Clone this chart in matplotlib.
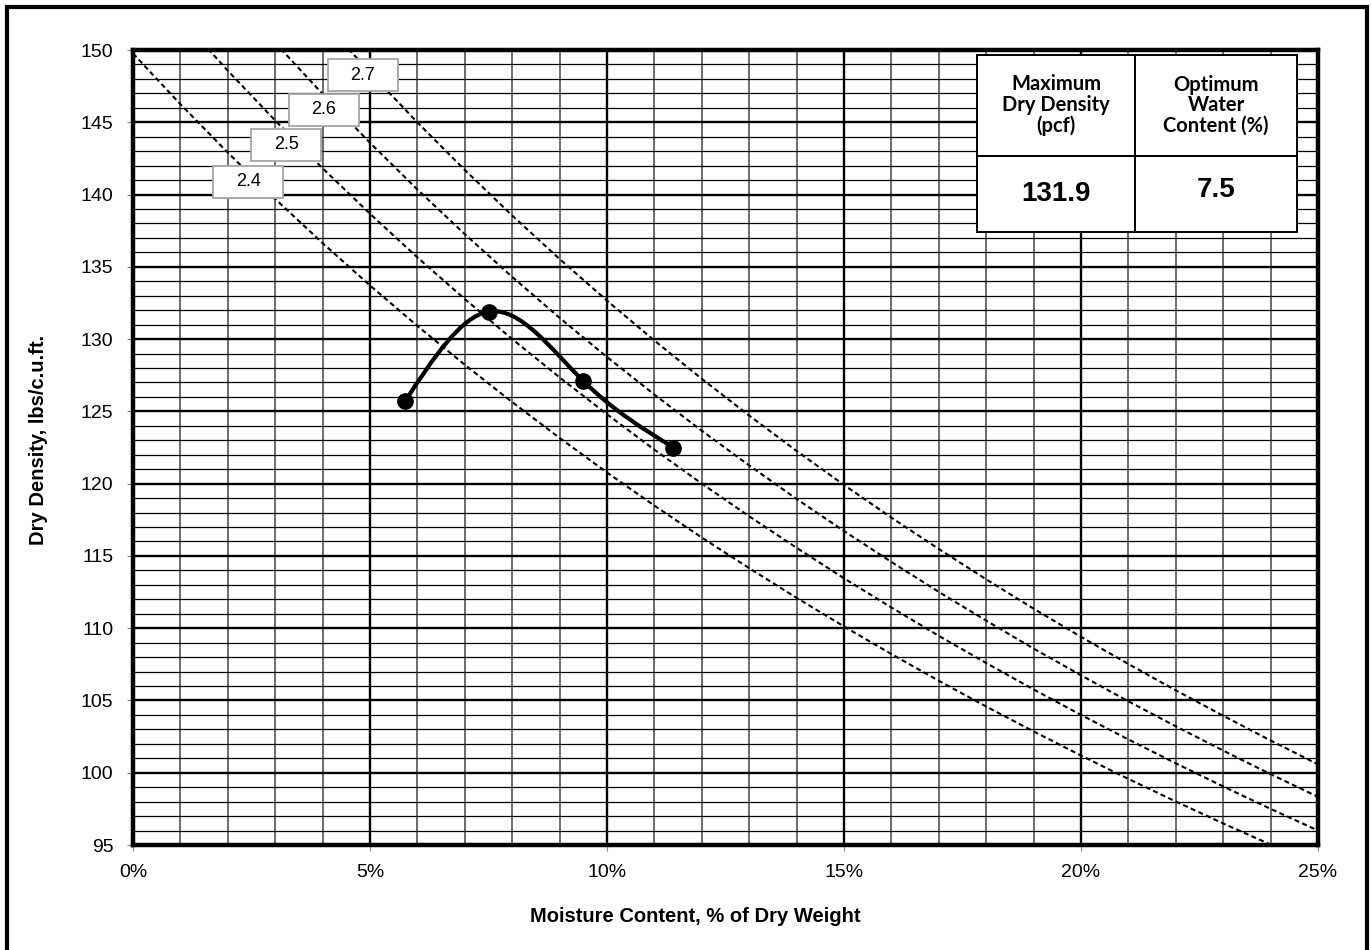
import numpy as np
import matplotlib
matplotlib.use("Agg")
import matplotlib.pyplot as plt
from matplotlib.path import Path
from matplotlib.patches import PathPatch, Rectangle
from matplotlib.ticker import MultipleLocator, FuncFormatter

# compaction test points
moisture = [5.74, 7.5, 9.5, 11.4]          # % of dry weight
dry_density = [125.7, 131.9, 127.1, 122.5]  # pcf

# zero air voids curves, read every 1 % moisture
zav_moisture = list(range(26))
zav_24 = [149.76, 146.25, 142.90, 139.70, 136.64, 133.71, 130.91, 128.22, 125.64,
          123.16, 120.77, 118.48, 116.27, 114.15, 112.10, 110.12, 108.21, 106.36,
          104.58, 102.86, 101.19, 99.57, 98.01, 96.49, 95.03, 93.60]
zav_25 = [156.00, 152.20, 148.57, 145.12, 141.82, 138.67, 135.65, 132.77, 130.00,
          127.35, 124.80, 122.35, 120.00, 117.74, 115.56, 113.45, 111.43, 109.47,
          107.59, 105.76, 104.00, 102.30, 100.65, 99.05, 97.50, 96.00]
zav_26 = [162.24, 158.13, 154.22, 150.50, 146.96, 143.58, 140.35, 137.26, 134.30,
          131.47, 128.76, 126.16, 123.66, 121.26, 118.94, 116.72, 114.58, 112.51,
          110.52, 108.59, 106.74, 104.94, 103.21, 101.53, 99.90, 98.33]
zav_27 = [168.48, 164.05, 159.85, 155.85, 152.06, 148.44, 144.99, 141.70, 138.55,
          135.54, 132.66, 129.90, 127.25, 124.71, 122.26, 119.91, 117.65, 115.48,
          113.38, 111.35, 109.40, 107.52, 105.70, 103.94, 102.23, 100.58]
gs_labels = ["2.4", "2.5", "2.6", "2.7"]

# where the specific gravity tags sit (x in %, y in pcf)
tag_pos = [(2.43, 140.87), (3.23, 143.43), (4.03, 145.85), (4.85, 148.27)]
tag_w, tag_h = 1.48, 2.15

FONT = "Liberation Sans"


def smooth_path(x, y):
    # natural cubic spline slopes -> bezier segments
    x = np.asarray(x, float)
    y = np.asarray(y, float)
    n = len(x)
    h = np.diff(x)
    s = np.diff(y) / h
    A = np.zeros((n, n))
    b = np.zeros(n)
    A[0, 0] = A[-1, -1] = 1
    for i in range(1, n - 1):
        A[i, i - 1] = h[i - 1]
        A[i, i] = 2 * (h[i - 1] + h[i])
        A[i, i + 1] = h[i]
        b[i] = 6 * (s[i] - s[i - 1])
    M = np.linalg.solve(A, b)
    d = np.zeros(n)
    for i in range(n - 1):
        d[i] = s[i] - h[i] * (2 * M[i] + M[i + 1]) / 6
    d[-1] = s[-1] + h[-1] * (M[-2] + 2 * M[-1]) / 6
    verts = [(x[0], y[0])]
    codes = [Path.MOVETO]
    for i in range(n - 1):
        verts += [(x[i] + h[i] / 3, y[i] + h[i] * d[i] / 3),
                  (x[i + 1] - h[i] / 3, y[i + 1] - h[i] * d[i + 1] / 3),
                  (x[i + 1], y[i + 1])]
        codes += [Path.CURVE4] * 3
    return Path(verts, codes)


fig = plt.figure(figsize=(13.72, 9.5), dpi=100)
ax = fig.add_axes([133 / 1372, 105 / 950, 1185 / 1372, 795 / 950])

ax.set_xlim(0, 25)
ax.set_ylim(95, 150)
ax.xaxis.set_major_locator(MultipleLocator(5))
ax.xaxis.set_minor_locator(MultipleLocator(1))
ax.yaxis.set_major_locator(MultipleLocator(5))
ax.yaxis.set_minor_locator(MultipleLocator(1))
ax.xaxis.set_major_formatter(FuncFormatter(lambda v, p: f"{v:.0f}%"))

ax.grid(which="major", color="black", lw=1.7, zorder=1)
ax.xaxis.grid(which="minor", color="#444444", lw=1.1)
ax.yaxis.grid(which="minor", color="#000000", lw=0.9)
ax.set_axisbelow(True)

ax.tick_params(which="major", direction="out", length=4, width=0.8, color="#888888",
               labelsize=14, pad=10)
ax.tick_params(which="minor", length=0)
for lab in ax.get_xticklabels() + ax.get_yticklabels():
    lab.set_fontfamily(FONT)
for sp in ax.spines.values():
    sp.set_linewidth(3.2)
    sp.set_zorder(5)

for vals in (zav_24, zav_25, zav_26, zav_27):
    ax.plot(zav_moisture, vals, color="black", lw=1.5, dashes=(2.4, 1.6), zorder=2)

for lab, (tx, ty) in zip(gs_labels, tag_pos):
    ax.add_patch(Rectangle((tx - tag_w / 2, ty - tag_h / 2), tag_w, tag_h,
                           facecolor="white", edgecolor="#a6a6a6", lw=1.3, zorder=6))
    ax.text(tx, ty, lab, ha="center", va="center", fontsize=13, family=FONT, zorder=7)

ax.add_patch(PathPatch(smooth_path(moisture, dry_density), facecolor="none",
                       edgecolor="black", lw=3.0, zorder=3))
ax.plot(moisture, dry_density, "o", color="black", ms=11, zorder=4)

# summary box
imax = int(np.argmax(dry_density))
max_dd = dry_density[imax]
opt_w = moisture[imax]
x0, xm, x1 = 0.7122, 0.8456, 0.9823
y0, ym, y1 = 0.7711, 0.867, 0.9937
ax.add_patch(Rectangle((x0, y0), x1 - x0, y1 - y0, transform=ax.transAxes,
                       facecolor="white", edgecolor="black", lw=1.4, zorder=8))
ax.plot([xm, xm], [y0, y1], transform=ax.transAxes, color="black", lw=1.4, zorder=9)
ax.plot([x0, x1], [ym, ym], transform=ax.transAxes, color="black", lw=1.4, zorder=9)
hy = (ym + y1) / 2
vy = (y0 + ym) / 2
ax.text((x0 + xm) / 2, hy, "Maximum\nDry Density\n(pcf)", transform=ax.transAxes,
        ha="center", va="center", fontsize=14.5, fontweight="bold", family="Lato",
        linespacing=1.05, zorder=10)
ax.text((xm + x1) / 2, hy, "Optimum\nWater\nContent (%)", transform=ax.transAxes,
        ha="center", va="center", fontsize=14.5, fontweight="bold", family="Lato",
        linespacing=1.05, zorder=10)
ax.text((x0 + xm) / 2, vy, f"{max_dd:.1f}", transform=ax.transAxes, ha="center",
        va="center", fontsize=20, fontweight="bold", family=FONT, zorder=10)
ax.text((xm + x1) / 2, vy + 0.005, f"{opt_w:.1f}", transform=ax.transAxes, ha="center",
        va="center", fontsize=20, fontweight="bold", family=FONT, zorder=10)

fig.text(695 / 1372, 1 - 917 / 950, "Moisture Content, % of Dry Weight", ha="center",
         va="center", fontsize=14.5, fontweight="bold", family=FONT)
fig.text(39 / 1372, 1 - 440 / 950, "Dry Density, lbs/c.u.ft.", ha="center", va="center",
         rotation=90, fontsize=14.5, fontweight="bold", family=FONT)

# outer frame
fig.patches.append(Rectangle((7 / 1372, -0.05), 1360 / 1372, 1.05 - 7.5 / 950,
                             transform=fig.transFigure, fill=False, edgecolor="black",
                             lw=3, clip_on=False))

fig.savefig("out.png", dpi=100)
